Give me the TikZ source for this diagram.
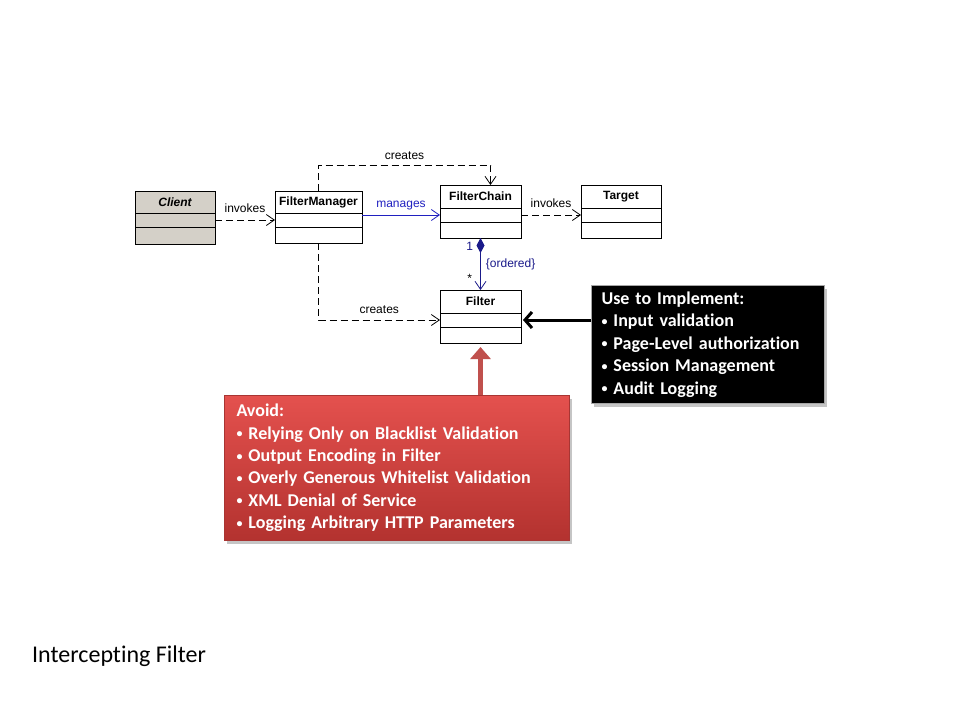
\documentclass[tikz,border=0pt]{standalone}
\usepackage{fontspec}
\usepackage{xcolor}
\setmainfont{Carlito}[Ligatures=NoCommon]
\newfontfamily\umlfont{Liberation Sans}
\usetikzlibrary{arrows.meta,positioning,shadows}

\definecolor{clientgray}{HTML}{D4D0C8}
\definecolor{manageblue}{HTML}{2020C0}
\definecolor{ordernavy}{HTML}{1A1A8A}
\definecolor{avoidtop}{HTML}{E4514E}
\definecolor{avoidbottom}{HTML}{B3322F}
\definecolor{avoidedge}{HTML}{A83533}
\definecolor{avoidarrow}{HTML}{C0504D}

\tikzset{
  umlhead/.style={draw, fill=white, line width=0.8pt, inner sep=0pt, outer sep=0pt,
    minimum height=22pt, font=\umlfont\bfseries\fontsize{12}{14}\selectfont},
  umlrow/.style={draw, fill=white, line width=0.8pt, inner sep=0pt, outer sep=0pt},
  umllabel/.style={font=\umlfont\fontsize{12}{14}\selectfont, inner sep=2pt},
  dep/.style={line width=0.8pt, dash pattern=on 7pt off 4pt,
    -{Straight Barb[length=8pt,width=11pt]}},
  callout/.style={anchor=north west, align=left, inner xsep=10pt, text=white,
    font=\bfseries\fontsize{18}{22.4}\selectfont,
    drop shadow={shadow xshift=2pt, shadow yshift=-3pt, opacity=0.45}}
}
\newcommand\itm{{\fontsize{12}{12}\selectfont\raisebox{1.5pt}{\textbullet}}\ }

\begin{document}
\begin{tikzpicture}[x=1pt,y=-1pt]
  \fill[white] (0,0) rectangle (960,720);
  \useasboundingbox (0,0) rectangle (960,720);

  % classes
  \node[umlhead, fill=clientgray, anchor=north west, minimum width=80pt,
    font=\umlfont\bfseries\itshape\fontsize{12}{14}\selectfont] (client) at (135,191) {Client};
  \node[umlrow, fill=clientgray, below=0pt of client, minimum width=80pt, minimum height=14pt] (client2) {};
  \node[umlrow, fill=clientgray, below=0pt of client2, minimum width=80pt, minimum height=17pt] (client3) {};

  \node[umlhead, anchor=north west, minimum width=87pt] (fm) at (275,191) {FilterManager};
  \node[umlrow, below=0pt of fm, minimum width=87pt, minimum height=14pt] (fm2) {};
  \node[umlrow, below=0pt of fm2, minimum width=87pt, minimum height=16pt] (fm3) {};

  \node[umlhead, anchor=north west, minimum width=81pt, minimum height=23pt] (fc) at (440,185) {FilterChain};
  \node[umlrow, below=0pt of fc, minimum width=81pt, minimum height=14pt] (fc2) {};
  \node[umlrow, below=0pt of fc2, minimum width=81pt, minimum height=16pt] (fc3) {};

  \node[umlhead, anchor=north west, minimum width=80pt, minimum height=23pt] (target) at (581,185) {Target};
  \node[umlrow, below=0pt of target, minimum width=80pt, minimum height=14pt] (target2) {};
  \node[umlrow, below=0pt of target2, minimum width=80pt, minimum height=16pt] (target3) {};

  \node[umlhead, anchor=north west, minimum width=81pt, minimum height=23pt] (filter) at (440,290) {Filter};
  \node[umlrow, below=0pt of filter, minimum width=81pt, minimum height=14pt] (filter2) {};
  \node[umlrow, below=0pt of filter2, minimum width=81pt, minimum height=16pt] (filter3) {};

  % relations
  \draw[dep] (client2.east) -- (fm2.west) node[umllabel, midway, above=5pt] {invokes};
  \draw[manageblue, line width=0.8pt, -{Straight Barb[length=8pt,width=11pt]}]
    (fc2.west -| fm.east) -- (fc2.west)
    node[umllabel, midway, above=3pt, text=manageblue] {manages};
  \draw[dep] (fc2.east) -- (target2.west) node[umllabel, midway, above=5pt] {invokes};
  \draw[dep] (fm.north) -- ++(0,-26) -| ([xshift=10pt]fc.north)
    node[umllabel, pos=0.25, above=3pt] {creates};
  \draw[dep] (fm3.south) |- (filter2.west)
    node[umllabel, pos=0.75, above=4pt] {creates};
  \draw[ordernavy, line width=0.8pt,
    {Diamond[length=15pt,width=8pt,fill=ordernavy]}-{Straight Barb[length=8pt,width=11pt]}]
    (fc3.south) -- (filter.north)
    node[umllabel, pos=0.17, left=5pt, text=ordernavy] (one) {1}
    node[umllabel, pos=0.78, left=6pt, text=black] (many) {*}
    node[umllabel, midway, right=3pt, text=ordernavy] (ordered) {\{ordered\}};

  % callouts
  \node[callout, fill=black, draw=gray!70, line width=1pt, minimum width=233pt,
    minimum height=118pt, text width=213pt] (use) at (591,285)
    {Use to Implement:\\ \itm Input validation\\ \itm Page-Level authorization\\
     \itm Session Management\\ \itm Audit Logging};
  \node[callout, top color=avoidtop, bottom color=avoidbottom, draw=avoidedge,
    line width=1pt, minimum width=345pt, minimum height=145pt, text width=321pt,
    inner xsep=12pt] (avoid) at (224,395)
    {Avoid:\\ \itm Relying Only on Blacklist Validation\\ \itm Output Encoding in Filter\\
     \itm Overly Generous Whitelist Validation\\ \itm XML Denial of Service\\
     \itm Logging Arbitrary HTTP Parameters};

  \draw[line width=3pt, -{Straight Barb[length=7pt,width=16pt]}]
    (filter2.east -| use.west) -- ([xshift=2pt]filter2.east);
  \draw[avoidarrow, line width=5pt, -{Triangle[length=12pt,width=20pt]}]
    (avoid.north -| filter3.south) -- ([yshift=-4pt]filter3.south);

  \node[anchor=west, font=\fontsize{24}{28}\selectfont, inner sep=0pt] (title) at (32,656) {Intercepting Filter};
\end{tikzpicture}
\end{document}
